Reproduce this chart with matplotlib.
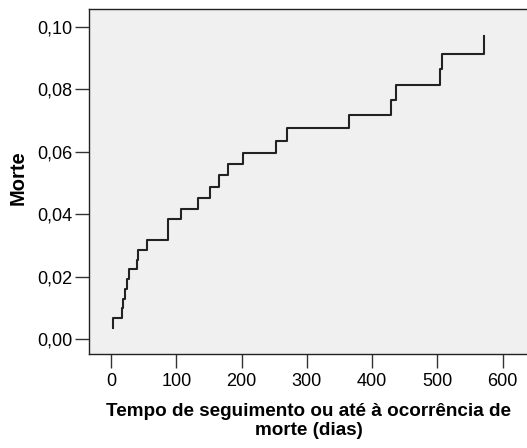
import matplotlib
matplotlib.use("Agg")
import matplotlib.pyplot as plt
import numpy as np

# event times (dias) and cumulative value of "Morte"
tempos = [2.6, 2.6, 16.4, 18.9, 22, 25, 27.5, 40, 41, 54.6, 86.8, 88, 107.6,
          132.7, 151, 165, 180, 201.6, 253, 269, 364, 428.6, 437, 504.7,
          506.6, 572]
morte = [0.0035, 0.0067, 0.0099, 0.0130, 0.0161, 0.0192, 0.0224, 0.0255,
         0.0287, 0.0318, 0.0350, 0.0384, 0.0418, 0.0453, 0.0488, 0.0525,
         0.0560, 0.0597, 0.0636, 0.0675, 0.0719, 0.0766, 0.0813, 0.0864,
         0.0915, 0.0970]

xticks = [0, 100, 200, 300, 400, 500, 600]
yticks = [0.00, 0.02, 0.04, 0.06, 0.08, 0.10]
ytick_labels = ["0,00", "0,02", "0,04", "0,06", "0,08", "0,10"]

plt.rcParams['font.family'] = ['Liberation Sans', 'DejaVu Sans']

fig = plt.figure(figsize=(5.27, 4.48), dpi=100)
ax = fig.add_axes([0.1698, 0.2098, 0.832, 0.7690])
ax.set_facecolor('#f0f0f0')

ax.plot(tempos, morte, drawstyle='steps-post', color='#222222', lw=1.5)

ax.set_xlim(-33, 639)
ax.set_ylim(-0.0047, 0.1056)
ax.set_xticks(xticks)
ax.set_yticks(yticks)
ax.set_yticklabels(ytick_labels)

ax.spines['right'].set_visible(False)
for s in ['left', 'top', 'bottom']:
    ax.spines[s].set_linewidth(1.0)
    ax.spines[s].set_color('#222222')

ax.tick_params(axis='both', direction='out', length=10, width=1.0,
               color='#333333', labelsize=13)
ax.tick_params(axis='y', pad=2)
ax.tick_params(axis='x', pad=4)

ax.set_xlabel('Tempo de seguimento ou até à ocorrência de\nmorte (dias)',
              fontsize=13.6, fontweight='bold', linespacing=1.12, labelpad=9)
ax.set_ylabel('Morte', fontsize=14.5, fontweight='bold')
ax.yaxis.set_label_coords(-0.142, 0.512)

fig.savefig('out.png', dpi=100)
